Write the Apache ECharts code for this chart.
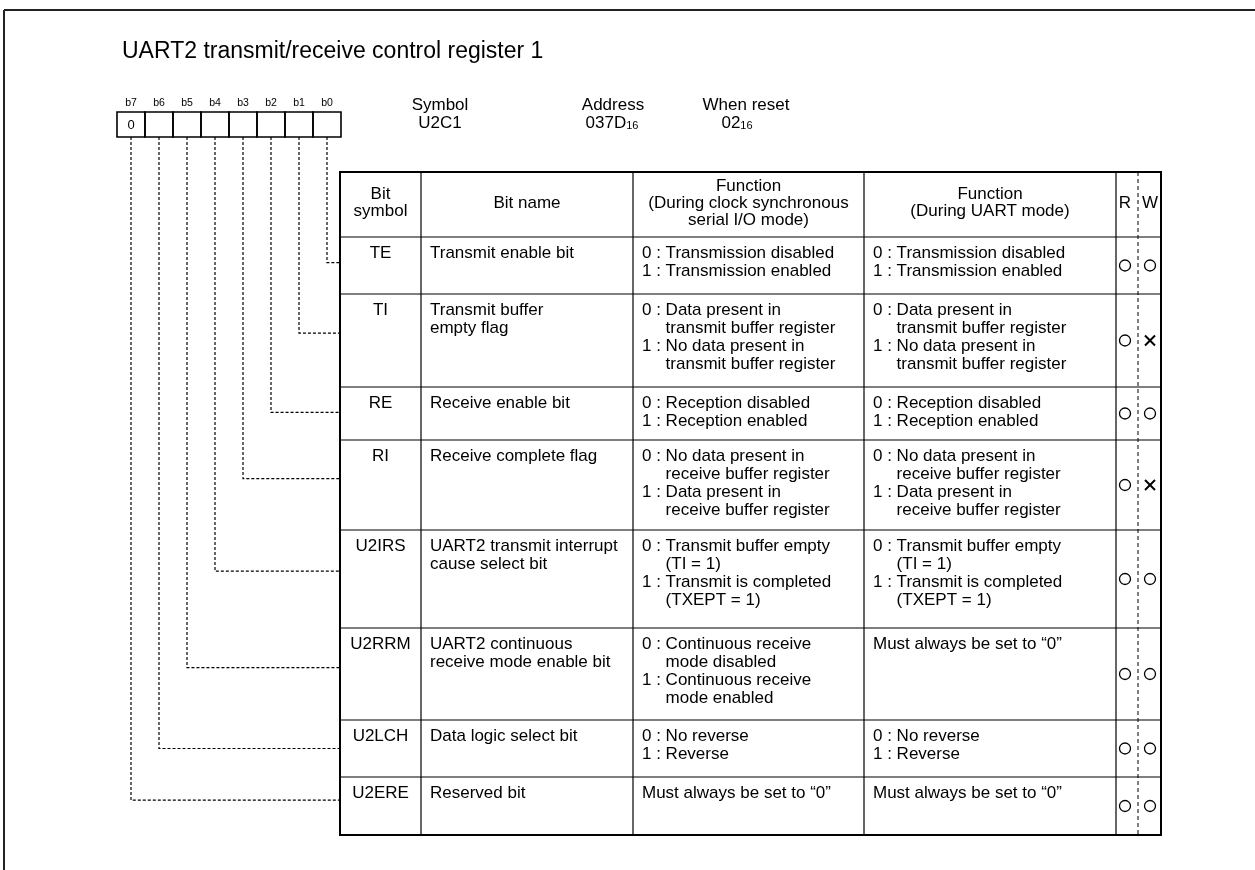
<!DOCTYPE html>
<html>
<head>
<meta charset="utf-8">
<script src="https://cdn.jsdelivr.net/npm/echarts@6/dist/echarts.min.js"></script>
<style>html,body{margin:0;padding:0;background:#fff}#chart{width:1255px;height:870px}</style>
</head>
<body>
<div id="chart"></div>
<script>
// ---------------- data ----------------
const titleText = 'UART2 transmit/receive control register 1';
const bitLabels = ['b7', 'b6', 'b5', 'b4', 'b3', 'b2', 'b1', 'b0'];
const bitInitial = ['0', '', '', '', '', '', '', ''];
const infoHeads = ['Symbol', 'Address', 'When reset'];
const infoValues = ['U2C1', '037D', '02'];
const infoSubs = ['', '16', '16'];
const headerTexts = ['Bit\nsymbol', 'Bit name', 'Function\n(During clock synchronous\nserial I/O mode)', 'Function\n(During UART mode)'];
const rwHeader = ['R', 'W'];
// table rows, b0 .. b7
const bitSymbols = ['TE', 'TI', 'RE', 'RI', 'U2IRS', 'U2RRM', 'U2LCH', 'U2ERE'];
const bitNames = [
  'Transmit enable bit',
  'Transmit buffer\nempty flag',
  'Receive enable bit',
  'Receive complete flag',
  'UART2 transmit interrupt\ncause select bit',
  'UART2 continuous\nreceive mode enable bit',
  'Data logic select bit',
  'Reserved bit'
];
const funcClock = [
  [['0 :', ['Transmission disabled']], ['1 :', ['Transmission enabled']]],
  [['0 :', ['Data present in', 'transmit buffer register']], ['1 :', ['No data present in', 'transmit buffer register']]],
  [['0 :', ['Reception disabled']], ['1 :', ['Reception enabled']]],
  [['0 :', ['No data present in', 'receive buffer register']], ['1 :', ['Data present in', 'receive buffer register']]],
  [['0 :', ['Transmit buffer empty', '(TI = 1)']], ['1 :', ['Transmit is completed', '(TXEPT = 1)']]],
  [['0 :', ['Continuous receive', 'mode disabled']], ['1 :', ['Continuous receive', 'mode enabled']]],
  [['0 :', ['No reverse']], ['1 :', ['Reverse']]],
  [['', ['Must always be set to \u201C0\u201D']]]
];
const funcUart = [
  [['0 :', ['Transmission disabled']], ['1 :', ['Transmission enabled']]],
  [['0 :', ['Data present in', 'transmit buffer register']], ['1 :', ['No data present in', 'transmit buffer register']]],
  [['0 :', ['Reception disabled']], ['1 :', ['Reception enabled']]],
  [['0 :', ['No data present in', 'receive buffer register']], ['1 :', ['Data present in', 'receive buffer register']]],
  [['0 :', ['Transmit buffer empty', '(TI = 1)']], ['1 :', ['Transmit is completed', '(TXEPT = 1)']]],
  [['', ['Must always be set to \u201C0\u201D']]],
  [['0 :', ['No reverse']], ['1 :', ['Reverse']]],
  [['', ['Must always be set to \u201C0\u201D']]]
];
const readMarks = ['O', 'O', 'O', 'O', 'O', 'O', 'O', 'O'];
const writeMarks = ['O', 'X', 'O', 'X', 'O', 'O', 'O', 'O'];

// ---------------- layout (axis units = page pixels) ----------------
const FONT = "'Liberation Sans', Arial, Helvetica, sans-serif";
const L = {
  W: 1255, H: 870,
  frameX: 4, frameY: 10,
  titleX: 122, titleTop: 40, titleSize: 23,
  labelY: 103, labelSize: 10.5,
  boxX0: 117, boxW: 28, boxTop: 112, boxBottom: 137, boxValueSize: 13,
  infoHeadX: [440, 613, 746], infoValX: [440, 612, 737], infoY1: 105, infoY2: 123, subSize: 11, subDrop: 3,
  colEdges: [340, 421, 633, 864, 1116, 1161],
  rwSplit: 1138, rX: 1125, wX: 1150,
  rowEdges: [172, 237, 294, 387, 440, 530, 628, 720, 777, 835],
  connFrac: [0.45, 0.42, 0.48, 0.43, 0.42, 0.43, 0.5, 0.4],
  headMid: 203, headLH: 17,
  firstLine: 16, lh: 18, padX: 9, fontSize: 17,
  inner: 1.2, outer: 2
};

const mctx = document.createElement('canvas').getContext('2d');
function tw(s, size) { mctx.font = size + 'px ' + FONT; return mctx.measureText(s).width; }

function txt(api, x, y, s, opt) {
  const p = api.coord([x, y]);
  return { type: 'text', x: p[0], y: p[1], silent: true,
    style: Object.assign({ text: s, fill: '#000', fontSize: L.fontSize, fontFamily: FONT, align: 'left', verticalAlign: 'middle' }, opt || {}) };
}
function ln(api, x1, y1, x2, y2, opt) {
  const a = api.coord([x1, y1]), b = api.coord([x2, y2]);
  return { type: 'line', silent: true, shape: { x1: a[0], y1: a[1], x2: b[0], y2: b[1] },
    style: Object.assign({ stroke: '#000', lineWidth: L.inner }, opt || {}) };
}
function poly(api, pts, opt) {
  return { type: 'polyline', silent: true, shape: { points: pts.map(p => api.coord(p)) },
    style: Object.assign({ stroke: '#000', fill: null, lineWidth: L.inner }, opt || {}) };
}
function box(api, x1, y1, x2, y2, opt) {
  const a = api.coord([x1, y1]), b = api.coord([x2, y2]);
  return { type: 'rect', silent: true, shape: { x: a[0], y: a[1], width: b[0] - a[0], height: b[1] - a[1] },
    style: Object.assign({ stroke: '#000', fill: null, lineWidth: L.inner }, opt || {}) };
}
function mark(api, x, y, kind) {
  const p = api.coord([x, y]);
  if (kind === 'O') {
    return { type: 'circle', silent: true, shape: { cx: p[0], cy: p[1], r: 5.5 }, style: { stroke: '#000', fill: null, lineWidth: 1.3 } };
  }
  const d = 5;
  return { type: 'group', children: [
    { type: 'line', shape: { x1: p[0] - d, y1: p[1] - d, x2: p[0] + d, y2: p[1] + d }, style: { stroke: '#000', lineWidth: 2 } },
    { type: 'line', shape: { x1: p[0] - d, y1: p[1] + d, x2: p[0] + d, y2: p[1] - d }, style: { stroke: '#000', lineWidth: 2 } }
  ] };
}
function rowTop(r) { return L.rowEdges[r + 1]; }
function rowBot(r) { return L.rowEdges[r + 2]; }

function addFunc(children, api, entries, x, y0) {
  let k = 0;
  entries.forEach(([pre, lines]) => {
    const indent = pre ? tw(pre + ' ', L.fontSize) : 0;
    lines.forEach((s, j) => {
      const y = y0 + k * L.lh;
      if (j === 0) children.push(txt(api, x, y, (pre ? pre + ' ' : '') + s));
      else children.push(txt(api, x + indent, y, s));
      k++;
    });
  });
}

// frame + info
function renderFrame(params, api) {
  const c = [];
  c.push(ln(api, L.frameX, L.frameY, L.W, L.frameY, { lineWidth: 2, stroke: '#222' }));
  c.push(ln(api, L.frameX, L.frameY, L.frameX, L.H, { lineWidth: 2, stroke: '#222' }));
  infoHeads.forEach((h, i) => {
    c.push(txt(api, L.infoHeadX[i], L.infoY1, h, { align: 'center' }));
    const w1 = tw(infoValues[i], L.fontSize), w2 = infoSubs[i] ? tw(infoSubs[i], L.subSize) : 0;
    const x0 = L.infoValX[i] - (w1 + w2) / 2;
    c.push(txt(api, x0, L.infoY2, infoValues[i]));
    if (infoSubs[i]) c.push(txt(api, x0 + w1, L.infoY2 + L.subDrop, infoSubs[i], { fontSize: L.subSize }));
  });
  return { type: 'group', children: c };
}

function renderBit(params, api) {
  const i = params.dataIndex;
  const x0 = L.boxX0 + i * L.boxW, cx = x0 + L.boxW / 2;
  const r = bitLabels.length - 1 - i;
  const yc = rowTop(r) + (rowBot(r) - rowTop(r)) * L.connFrac[r];
  return { type: 'group', children: [
    txt(api, cx, L.labelY, bitLabels[i], { align: 'center', fontSize: L.labelSize }),
    box(api, x0, L.boxTop, x0 + L.boxW, L.boxBottom, { lineWidth: 1.6 }),
    txt(api, cx, (L.boxTop + L.boxBottom) / 2 + 1, bitInitial[i], { align: 'center', fontSize: L.boxValueSize }),
    poly(api, [[cx, L.boxBottom], [cx, yc], [L.colEdges[0], yc]], { lineDash: [3, 2], lineWidth: 1.2 })
  ] };
}

function renderHeader(params, api) {
  const c = [], e = L.colEdges;
  headerTexts.forEach((t, k) => {
    const lines = t.split('\n');
    const cx = (e[k] + e[k + 1]) / 2;
    lines.forEach((s, j) => {
      c.push(txt(api, cx, L.headMid + (j - (lines.length - 1) / 2) * L.headLH, s, { align: 'center' }));
    });
  });
  c.push(txt(api, L.rX, L.headMid, rwHeader[0], { align: 'center' }));
  c.push(txt(api, L.wX, L.headMid, rwHeader[1], { align: 'center' }));
  return { type: 'group', children: c };
}

function renderRow(params, api) {
  const r = params.dataIndex, e = L.colEdges;
  const y0 = rowTop(r), y1 = rowBot(r);
  const c = [];
  c.push(ln(api, e[0], y0, e[5], y0));
  const ty = y0 + L.firstLine;
  c.push(txt(api, (e[0] + e[1]) / 2, ty, bitSymbols[r], { align: 'center' }));
  bitNames[r].split('\n').forEach((s, k) => c.push(txt(api, e[1] + L.padX, ty + k * L.lh, s)));
  addFunc(c, api, funcClock[r], e[2] + L.padX, ty);
  addFunc(c, api, funcUart[r], e[3] + L.padX, ty);
  const cy = (y0 + y1) / 2;
  c.push(mark(api, L.rX, cy, readMarks[r]));
  c.push(mark(api, L.wX, cy, writeMarks[r]));
  return { type: 'group', children: c };
}

function renderGrid(params, api) {
  const c = [], e = L.colEdges, top = L.rowEdges[0], bot = L.rowEdges[L.rowEdges.length - 1];
  for (let k = 1; k < e.length - 1; k++) c.push(ln(api, e[k], top, e[k], bot));
  c.push(ln(api, L.rwSplit, top, L.rwSplit, bot, { lineDash: [4, 3], lineWidth: 1 }));
  c.push(box(api, e[0], top, e[5], bot, { lineWidth: L.outer }));
  return { type: 'group', children: c };
}

const chart = echarts.init(document.getElementById('chart'), null, { renderer: 'canvas' });
const common = { type: 'custom', coordinateSystem: 'cartesian2d', clip: false, silent: true, animation: false };
chart.setOption({
  backgroundColor: '#fff',
  animation: false,
  title: { text: titleText, left: L.titleX, top: L.titleTop, padding: 0,
    textStyle: { fontSize: L.titleSize, fontWeight: 'normal', color: '#000', fontFamily: FONT } },
  grid: { left: 0, right: 0, top: 0, bottom: 0 },
  xAxis: { type: 'value', min: 0, max: L.W, show: false },
  yAxis: { type: 'value', min: 0, max: L.H, inverse: true, show: false },
  series: [
    Object.assign({}, common, { name: 'frame', data: [[0, 0]], renderItem: renderFrame, z: 1 }),
    Object.assign({}, common, { name: 'bits', data: bitLabels.map((_, i) => [i, 0]), renderItem: renderBit, z: 2 }),
    Object.assign({}, common, { name: 'header', data: [[0, 0]], renderItem: renderHeader, z: 3 }),
    Object.assign({}, common, { name: 'rows', data: bitSymbols.map((_, i) => [i, 0]), renderItem: renderRow, z: 3 }),
    Object.assign({}, common, { name: 'grid', data: [[0, 0]], renderItem: renderGrid, z: 4 })
  ]
});
</script>
</body>
</html>
